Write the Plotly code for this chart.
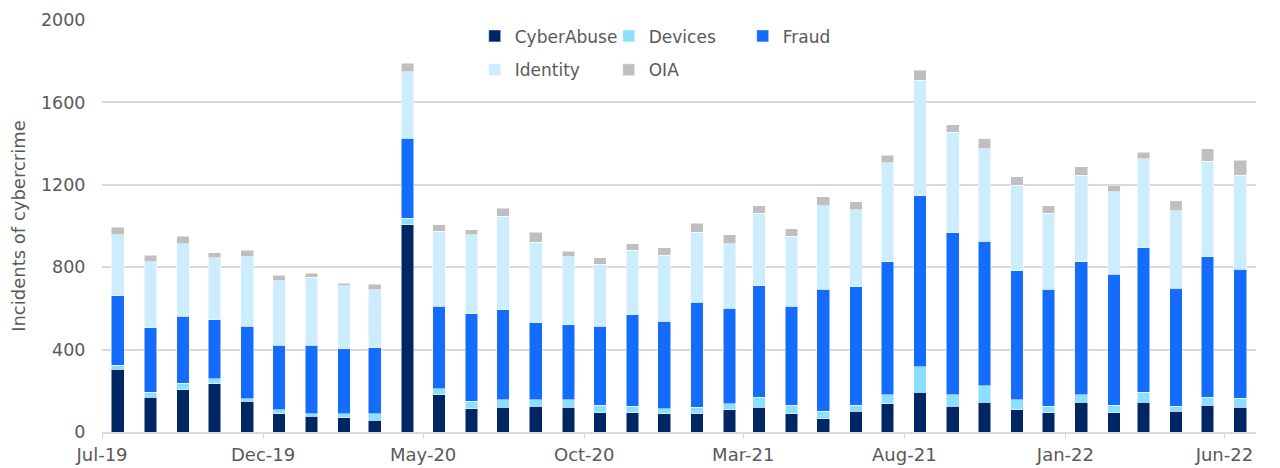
import pandas as pd
import plotly.graph_objects as go

# monthly incidents, Jul-19 .. Jun-22
months = pd.date_range("2019-07-01", "2022-06-01", freq="MS")
cyber_abuse = [304, 168, 205, 235, 150, 88, 77, 70, 58, 1006, 181, 114,
               120, 125, 120, 94, 94, 88, 88, 107, 120, 88, 64, 101,
               138, 194, 125, 144, 107, 94, 144, 94, 144, 101, 131, 120]
devices = [19, 26, 32, 24, 12, 19, 11, 18, 30, 31, 30, 36,
           37, 32, 37, 37, 31, 26, 32, 31, 48, 43, 37, 30,
           43, 123, 56, 80, 50, 31, 37, 37, 50, 24, 37, 43]
fraud = [338, 313, 326, 285, 352, 314, 333, 315, 320, 389, 400, 424,
         437, 374, 363, 383, 445, 424, 510, 462, 542, 480, 592, 573,
         646, 830, 787, 702, 627, 568, 646, 634, 700, 573, 683, 627]
identity = [296, 320, 351, 301, 337, 313, 331, 307, 283, 324, 363, 383,
            454, 389, 331, 300, 313, 320, 340, 314, 352, 339, 405, 376,
            480, 560, 486, 448, 413, 368, 419, 401, 432, 376, 463, 456]
oia = [37, 31, 36, 25, 32, 26, 19, 13, 26, 39, 32, 24,
       38, 50, 26, 32, 31, 36, 43, 43, 37, 37, 44, 37,
       37, 50, 37, 50, 43, 38, 42, 31, 31, 49, 60, 74]

series = [
    ("CyberAbuse", cyber_abuse, "#002664", "legend"),
    ("Devices", devices, "#8CE0FF", "legend"),
    ("Fraud", fraud, "#146CFD", "legend"),
    ("Identity", identity, "#CBEDFD", "legend2"),
    ("OIA", oia, "#BFBFBF", "legend2"),
]

# bars sit mid-month, ticks at month start
bar_x = months + pd.Timedelta(days=15)
bar_width = 12.0 * 86400000

fig = go.Figure()
for name, vals, color, leg in series:
    fig.add_trace(go.Bar(
        x=bar_x,
        y=vals,
        name=name,
        width=bar_width,
        marker=dict(color=color, line=dict(color="white", width=0.5)),
        legend=leg,
    ))

font_color = "#595959"
font_family = "DejaVu Sans, Liberation Sans, sans-serif"
legend_common = dict(
    orientation="h",
    xanchor="left",
    yanchor="middle",
    x=0.323,
    entrywidth=89,
    entrywidthmode="pixels",
    font=dict(family=font_family, size=17, color=font_color),
    bgcolor="rgba(0,0,0,0)",
    itemwidth=30,
    traceorder="normal",
)

# page body has an 8px margin, so margins are offset to keep the plot area in place
fig.update_layout(
    barmode="stack",
    width=1280,
    height=468,
    margin=dict(l=94, r=32, t=11, b=44),
    plot_bgcolor="white",
    paper_bgcolor="white",
    font=dict(family=font_family, size=18, color=font_color),
    legend=dict(legend_common, y=0.958),
    legend2=dict(legend_common, y=0.876),
    xaxis=dict(
        type="date",
        range=["2019-07-01", "2022-07-01"],
        tick0="2019-07-01",
        dtick="M5",
        tickformat="%b-%y",
        ticks="outside",
        ticklen=5,
        tickcolor="#D9D9D9",
        showline=True,
        linecolor="#D9D9D9",
        linewidth=2,
        showgrid=False,
        automargin=False,
        tickfont=dict(size=18, color=font_color),
    ),
    yaxis=dict(
        range=[0, 2000],
        dtick=400,
        showgrid=True,
        gridcolor="#D9D9D9",
        gridwidth=2,
        zeroline=False,
        showline=False,
        automargin=False,
        ticks="outside",
        ticklen=12,
        tickcolor="rgba(0,0,0,0)",
        ticklabeloverflow="allow",
        tickfont=dict(size=17.5, color=font_color),
        title=dict(text="Incidents of cybercrime", standoff=11,
                   font=dict(size=18, color=font_color)),
    ),
)

fig.write_html("out.html")
